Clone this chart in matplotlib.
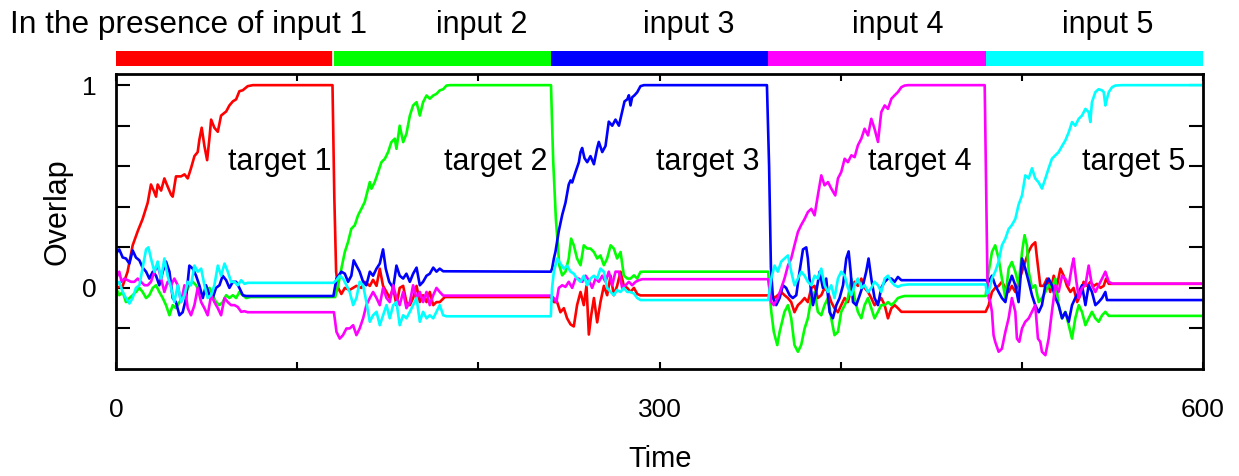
import matplotlib.pyplot as plt

# phases: each input is presented for 120 time units
phase_starts = [0, 120, 240, 360, 480]
phase_len = 120
colors = ['#ff0000', '#00ff00', '#0000ff', '#ff00ff', '#00ffff']
input_labels = ['In the presence of input 1', 'input 2', 'input 3', 'input 4', 'input 5']
target_labels = ['target 1', 'target 2', 'target 3', 'target 4', 'target 5']
target_label_x = [119, 238, 355, 472, 590]

# overlap of each target with the network state, (time, overlap)
red = [
    (0, 0.0), (3.7, 0.01), (6.4, 0.08), (9.2, 0.21), (12, 0.28), (14.7, 0.34), (17.5, 0.42), (19.3, 0.51),
    (20.8, 0.48), (22.1, 0.45), (23, 0.51), (24.9, 0.48), (26.7, 0.54), (28.5, 0.50), (30.4, 0.46), (31.3, 0.45),
    (33.1, 0.55), (35.9, 0.55), (37.8, 0.56), (39.6, 0.54), (41.4, 0.59), (43.3, 0.65), (45.1, 0.67), (46, 0.73),
    (47.3, 0.79), (48.8, 0.70), (50.3, 0.63), (51.6, 0.74), (52.5, 0.83), (54.3, 0.79), (56.2, 0.77), (58, 0.85),
    (60.8, 0.87), (62.6, 0.90), (64.5, 0.92), (66.3, 0.93), (68.1, 0.97), (70, 0.975), (72.7, 0.995), (75.5, 1.0),
    (119.5, 1.0), (120.5, 0.45), (121.5, 0.08), (122.6, 0.0),
    (124.4, -0.03), (126.3, 0.0), (129, -0.01), (132.7, 0.01), (135.5, 0.0), (137.3, 0.03), (140.1, 0.01),
    (141.9, 0.04), (143.8, 0.01), (145.6, 0.095), (147.4, 0.01), (149.3, -0.02), (151.1, -0.05), (153, 0.0),
    (154.8, -0.085), (156.6, 0.0), (158.5, 0.01), (160.3, -0.07), (162.2, -0.085), (164, -0.05), (165.9, 0.01),
    (167.7, -0.07), (169.5, -0.036), (171.4, -0.07), (173.2, -0.02), (175.1, -0.085), (176.9, -0.07),
    (178.7, -0.07), (181.5, -0.045), (240, -0.045),
    (241.7, -0.07), (243.5, -0.07), (245.3, -0.12), (247.2, -0.10), (249, -0.15), (250.9, -0.18), (252.7, -0.19),
    (254.5, -0.085), (256.4, -0.02), (258.2, -0.085), (259.7, 0.01), (261, -0.23), (262.3, -0.135), (263.8, -0.05),
    (265.6, -0.17), (267.4, -0.07), (269.3, 0.01), (271.1, -0.036), (273, 0.06), (274.8, -0.036), (276.6, 0.01),
    (278.5, 0.08), (280.3, 0.01), (282.2, 0.0), (284, -0.02), (285.9, 0.0), (287.7, -0.03), (289.5, -0.037),
    (360, -0.037),
    (361.7, -0.028), (363.5, -0.05), (365.3, -0.036), (367.2, -0.02), (369, -0.036), (370.9, -0.05), (372.7, -0.07),
    (374.5, -0.12), (376.4, -0.085), (378.2, -0.07), (380.1, -0.05), (381.9, -0.07), (383.8, 0.0), (385.6, 0.01),
    (387.4, -0.05), (389.3, -0.036), (391.1, 0.0), (393, -0.02), (394.8, -0.07), (396.6, -0.10), (398.5, -0.12),
    (400.3, -0.085), (402.2, -0.05), (404, -0.07), (405.9, 0.0), (407.7, 0.03), (409.5, 0.01), (411.4, 0.046),
    (413.2, 0.0), (415.1, -0.02), (416.9, -0.05), (418.7, -0.085), (420.6, -0.07), (422.4, -0.05), (424.3, -0.085),
    (426.1, -0.15), (428, -0.10), (429.8, -0.085), (431.6, -0.10), (433.5, -0.118), (480, -0.118),
    (481.7, -0.085), (483.5, -0.02), (485.3, 0.0), (487.2, 0.01), (489, 0.03), (490.9, 0.0), (492.7, -0.02),
    (494.5, 0.01), (496.4, -0.02), (498.2, 0.03), (500.1, 0.08), (501.9, 0.13), (503.8, 0.18), (505.6, 0.21),
    (507.4, 0.225), (508.4, 0.145), (510.2, 0.01), (512, 0.01), (513.9, 0.046), (515.7, -0.02), (517.6, 0.06),
    (519.4, 0.01), (521.3, 0.095), (523.1, 0.06), (524.9, 0.01), (526.8, -0.02), (528.6, 0.0), (530.5, -0.07),
    (532.3, -0.036), (534.1, 0.03), (536, 0.01), (537.8, 0.03), (539.7, 0.01), (541.5, 0.02), (543.4, 0.0),
    (545.2, 0.01), (546.5, 0.046), (548, 0.02), (600, 0.02),
]

green = [
    (0, 0.0), (1.8, -0.036), (3.7, -0.02), (5.5, -0.07), (7.4, -0.05), (9.2, -0.036), (11, -0.02), (12.9, 0.0),
    (14.7, -0.02), (16.6, -0.05), (18.4, -0.036), (20.3, 0.0), (22.1, 0.013), (23.9, -0.02), (25.8, -0.05),
    (27.6, -0.085), (29.5, -0.135), (31.3, -0.085), (33.1, -0.10), (35, -0.07), (36.8, -0.05), (38.7, -0.02),
    (40.5, 0.013), (42.4, 0.03), (44.2, 0.013), (46, -0.02), (47.9, -0.036), (49.7, -0.02), (51.6, 0.0),
    (53.4, -0.036), (55.2, -0.07), (57.1, -0.085), (58.9, -0.07), (60.8, -0.036), (62.6, -0.05), (64.5, -0.036),
    (66.3, -0.05), (68.1, -0.02), (70, -0.036), (71.8, -0.05), (74, -0.045), (121, -0.045),
    (122.6, 0.013), (124.4, 0.095), (126.3, 0.177), (128.1, 0.227), (129.9, 0.292), (131.8, 0.309), (133.6, 0.358),
    (135.5, 0.391), (137.3, 0.424), (138.2, 0.456), (140.1, 0.522), (141, 0.489), (142.8, 0.522), (144.7, 0.571),
    (146.5, 0.62), (148.4, 0.637), (150.2, 0.67), (152, 0.719), (153.9, 0.736), (154.8, 0.686), (156.6, 0.80),
    (158.5, 0.719), (160.3, 0.76), (162.2, 0.85), (164, 0.90), (165.9, 0.916), (167.7, 0.85), (169.5, 0.916),
    (171.4, 0.949), (173.2, 0.933), (175.1, 0.949), (176.9, 0.957), (178.7, 0.974), (180.6, 0.98), (182.4, 0.998),
    (184.3, 1.0), (240.1, 1.0), (241.3, 0.63), (242.8, 0.34), (244.7, 0.11),
    (246.3, 0.062), (248.1, 0.08), (249.9, 0.145), (251.2, 0.243), (252.7, 0.21), (254.5, 0.145), (256.4, 0.112),
    (258.2, 0.21), (260.1, 0.194), (261.9, 0.194), (263.8, 0.177), (265.6, 0.145), (267.4, 0.16), (269.3, 0.112),
    (271.1, 0.145), (273, 0.21), (274.8, 0.194), (276.6, 0.145), (278.5, 0.177), (280.3, 0.062), (282.2, 0.046),
    (284, 0.046), (285.9, 0.062), (287.7, 0.046), (289.5, 0.079), (291.4, 0.08), (360, 0.08),
    (360.7, -0.02), (361.7, -0.118), (363.1, -0.217), (365, -0.282), (366.3, -0.217), (368.1, -0.15), (369, -0.118),
    (370.9, -0.085), (372.7, -0.15), (374.5, -0.282), (376.4, -0.315), (378.2, -0.282), (380.1, -0.20),
    (381.9, -0.15), (383.8, -0.05), (385.6, -0.02), (387.4, -0.118), (389.3, -0.135), (391.1, -0.085), (393, -0.05),
    (394.8, -0.15), (396.6, -0.233), (398.5, -0.217), (400.3, -0.118), (402.2, -0.085), (404, -0.05), (405.9, 0.046),
    (407.7, -0.05), (409.5, -0.118), (411.4, -0.15), (413.2, -0.085), (415.1, -0.05), (416.9, -0.10), (418.7, -0.15),
    (420.6, -0.118), (422.4, -0.085), (424.3, -0.085), (426.1, -0.07), (428, -0.085), (429.8, -0.07), (431.6, -0.05),
    (433.5, -0.044), (435.3, -0.04), (480, -0.04),
    (480.7, 0.013), (481.7, 0.08), (483.5, 0.177), (485.3, 0.21), (487.2, 0.145), (489, 0.046), (490.9, -0.05),
    (492.7, 0.095), (494.5, 0.128), (496.4, 0.08), (498.2, 0.013), (500.1, 0.177), (501.5, 0.26), (502.8, 0.21),
    (503.8, 0.08), (505.6, 0.0), (507.4, 0.013), (509.3, -0.07), (511.1, -0.05), (513, -0.02), (514.8, 0.013),
    (516.6, 0.0), (518.5, 0.046), (520.3, -0.085), (522.2, -0.15), (524, -0.118), (525.9, -0.184), (527.7, -0.25),
    (529.5, -0.15), (531.4, -0.085), (533.2, -0.118), (535.1, -0.184), (536.9, -0.15), (538.7, -0.118),
    (540.6, -0.15), (542.4, -0.167), (544.3, -0.135), (546.1, -0.118), (548, -0.138), (600, -0.138),
]

blue = [
    (0, 0.17), (1.8, 0.19), (3.7, 0.15), (5.5, 0.145), (7.4, 0.12), (9.2, 0.185), (11, 0.15), (12.9, 0.136),
    (14.7, 0.10), (16.6, 0.08), (18.4, 0.046), (20.3, 0.08), (22.1, 0.06), (23.9, 0.013), (25.8, 0.08), (27.6, 0.13),
    (29.5, 0.08), (31.3, -0.05), (33.1, -0.07), (35, -0.135), (36.8, -0.12), (38.7, -0.05), (40.5, 0.11),
    (42.4, 0.095), (44.2, 0.06), (46, 0.013), (47.9, -0.05), (49.7, 0.013), (51.6, -0.036), (53.4, -0.05),
    (55.2, 0.0), (57.1, 0.013), (58.9, 0.06), (60.8, 0.038), (62.6, 0.0), (64.5, 0.03), (66.3, 0.03), (68.1, 0.0),
    (70, -0.036), (71.8, -0.04), (120, -0.04),
    (121.7, 0.046), (124.4, 0.08), (126.3, 0.07), (128.1, 0.03), (129.9, 0.06), (131.2, 0.136), (132.7, 0.11),
    (134.5, 0.08), (136.4, 0.03), (138.2, 0.013), (140.1, 0.08), (141.9, 0.06), (143.8, 0.095), (145.6, 0.12),
    (147.4, 0.19), (148.9, 0.095), (150.8, 0.03), (153, 0.0), (154.8, 0.11), (156.6, 0.06), (158.5, 0.046),
    (160.3, 0.07), (162.2, 0.03), (164, 0.07), (165.9, 0.10), (167.7, 0.013), (169.5, 0.03), (171.4, 0.06),
    (173.2, 0.07), (175.1, 0.10), (176.9, 0.08), (178.7, 0.095), (180.6, 0.082), (240, 0.08),
    (240.7, 0.095), (241.7, 0.145), (242.6, 0.18), (244.4, 0.28), (246.3, 0.36), (248.1, 0.42), (249.9, 0.51),
    (250.9, 0.53), (251.8, 0.52), (253.6, 0.57), (255.5, 0.62), (256.4, 0.67), (257.3, 0.69), (258.6, 0.64),
    (260.1, 0.62), (261.9, 0.65), (263.8, 0.61), (265.6, 0.69), (266.5, 0.72), (268.4, 0.67), (270.2, 0.70),
    (272, 0.82), (273.9, 0.80), (275.7, 0.83), (277.6, 0.80), (279.4, 0.87), (280.7, 0.92), (282.2, 0.93),
    (283.1, 0.95), (284, 0.90), (284.9, 0.94), (286.2, 0.95), (287.7, 0.965), (289.5, 0.995), (291.4, 1.0),
    (359.3, 1.0), (360.5, 0.6), (361.5, 0.1), (362.6, -0.05),
    (364.4, -0.085), (366.3, -0.05), (368.1, 0.013), (369.9, 0.0), (371.8, -0.036), (373.6, -0.05), (375.5, -0.036),
    (377.3, 0.08), (379.2, 0.19), (381, 0.2), (381.9, 0.145), (382.8, 0.046), (383.8, -0.02), (384.7, -0.085),
    (386.5, -0.02), (388.4, 0.08), (390.2, 0.0), (392, 0.046), (393.9, -0.12), (395.7, -0.15), (397.6, -0.085),
    (399.4, -0.05), (401.3, 0.013), (403.1, 0.145), (404.4, 0.18), (405.5, 0.08), (406.8, -0.07), (408.6, -0.085),
    (410.5, -0.036), (412.3, 0.013), (414.1, 0.08), (415.4, 0.145), (416.9, 0.046), (418.7, -0.05), (420.6, -0.085),
    (422.4, 0.0), (424.3, 0.03), (426.1, 0.046), (428, 0.046), (429.8, 0.03), (431.6, 0.054), (433.5, 0.038),
    (480, 0.038),
    (481.7, 0.03), (483.5, 0.06), (485.3, 0.013), (487.2, -0.02), (489, -0.05), (490.9, -0.07), (492.7, 0.013),
    (494.5, 0.06), (496.4, 0.013), (498.2, -0.07), (500.1, 0.145), (501.9, 0.095), (503.8, 0.03), (505.6, -0.036),
    (507.4, -0.085), (509.3, -0.12), (511.1, -0.085), (513, 0.013), (514.8, 0.046), (516.6, 0.013), (518.5, -0.05),
    (520.3, -0.085), (522.2, -0.15), (524, -0.12), (525.9, -0.167), (527.7, -0.085), (529.5, -0.05),
    (531.4, -0.02), (533.2, 0.013), (535.1, -0.085), (536.9, 0.013), (538.7, -0.02), (540.6, -0.085),
    (542.4, -0.07), (544.3, -0.05), (546.1, -0.02), (547, -0.06), (600, -0.06),
]

magenta = [
    (0, 0.046), (1.8, 0.08), (3.1, 0.03), (4.6, 0.046), (6.4, 0.038), (8.3, 0.03), (10.1, 0.03), (12, 0.046),
    (13.8, 0.03), (15.7, 0.013), (17.5, 0.013), (19.3, 0.03), (21.2, 0.08), (23, 0.11), (24.9, 0.046),
    (26.7, -0.02), (28.5, 0.03), (30.4, 0.013), (32.2, 0.046), (34.1, 0.013), (35.9, -0.07), (37.8, 0.013),
    (39.6, -0.10), (41.4, -0.135), (43.3, -0.085), (45.1, 0.0), (47, -0.07), (48.8, -0.10), (50.6, -0.135),
    (52.5, -0.036), (54.3, -0.07), (56.2, -0.10), (58, -0.135), (59.9, -0.05), (61.7, -0.07), (63.5, -0.085),
    (65.4, -0.085), (67.2, -0.094), (69.1, -0.118), (70.9, -0.115), (72.7, -0.12), (120.3, -0.12),
    (121.7, -0.217), (123.5, -0.25), (125.3, -0.233), (127.2, -0.20), (129, -0.20), (130.9, -0.184),
    (132.7, -0.233), (134.5, -0.20), (136.4, -0.15), (138.2, -0.085), (140.1, -0.05), (141.9, -0.02),
    (143.8, -0.05), (145.6, -0.085), (147.4, 0.0), (149.3, -0.05), (151.1, -0.07), (153, 0.013), (154.8, -0.05),
    (156.6, -0.085), (158.5, -0.02), (160.3, -0.10), (162.2, -0.07), (164, 0.013), (165.9, -0.05), (167.7, -0.02),
    (169.5, -0.07), (171.4, -0.02), (173.2, -0.085), (175.1, -0.036), (176.9, 0.0), (178.7, -0.02),
    (180.6, -0.038), (240, -0.038),
    (241.7, -0.05), (243.1, -0.07), (244.4, 0.0), (246.3, 0.013), (248.1, 0.005), (249.9, 0.03), (251.8, 0.0),
    (253.6, 0.046), (255.5, 0.046), (257.3, 0.03), (259.2, 0.06), (261, 0.038), (262.8, 0.0), (264.7, 0.046),
    (266.5, 0.03), (268.4, 0.06), (270.2, 0.03), (272, 0.08), (273.9, 0.013), (275.7, 0.08), (277.6, 0.08),
    (279.4, 0.0), (281.3, 0.013), (283.1, 0.03), (284.9, 0.013), (286.8, 0.03), (288.6, 0.038), (290.5, 0.043),
    (360, 0.043),
    (361.7, -0.07), (363.1, -0.085), (365.3, -0.05), (367.2, 0.0), (369, 0.046), (370.9, 0.11), (372.7, 0.145),
    (374.5, 0.21), (376.4, 0.276), (378.2, 0.31), (380.1, 0.34), (381.9, 0.374), (383.8, 0.39), (385.6, 0.358),
    (387.4, 0.456), (389.3, 0.555), (391.1, 0.506), (393, 0.522), (394.8, 0.49), (397, 0.456), (398.5, 0.54),
    (400.3, 0.571), (402.2, 0.637), (404, 0.62), (405.9, 0.654), (407.7, 0.645), (409.5, 0.703), (411.4, 0.736),
    (413.2, 0.785), (415.1, 0.752), (416.9, 0.834), (418.7, 0.785), (420.6, 0.72), (422.4, 0.867), (424.3, 0.90),
    (426.1, 0.883), (428, 0.933), (429.8, 0.95), (431.6, 0.966), (433.5, 0.99), (435.3, 0.998), (437.2, 1.0),
    (479.5, 1.0), (480.3, 0.5), (481, 0.05),
    (481.7, -0.05), (482.6, -0.07), (483.5, -0.118), (484.4, -0.233), (485.3, -0.266), (487.2, -0.315),
    (489, -0.30), (490.9, -0.217), (492.7, -0.15), (494.5, -0.05), (496.4, -0.118), (497.3, -0.25),
    (498.6, -0.266), (500.1, -0.20), (501.9, -0.167), (503.8, -0.15), (505.6, -0.118), (507.4, -0.085),
    (508.9, -0.25), (510.2, -0.266), (511.1, -0.315), (513, -0.332), (514.8, -0.25), (516.6, -0.118),
    (518.5, 0.013), (520.3, -0.02), (522.2, 0.06), (524, 0.046), (525.9, 0.013), (527.7, 0.11), (528.6, 0.145),
    (529.9, 0.046), (531.4, -0.05), (533.2, 0.0), (535.1, 0.013), (536.9, 0.11), (538.7, 0.013), (540.6, -0.02),
    (542.4, 0.013), (544.3, 0.046), (546.1, 0.08), (548, 0.03), (549.8, 0.021), (600, 0.021),
]

cyan = [
    (0, 0.013), (1.8, 0.03), (3.7, -0.02), (5.5, -0.05), (7.4, -0.077), (9.2, -0.05), (11, 0.0), (12.9, 0.013),
    (14.7, 0.10), (16.6, 0.19), (17.9, 0.2), (19.3, 0.145), (21.2, 0.08), (23, 0.13), (24.9, 0.046), (26.7, 0.145),
    (28.5, 0.06), (30.4, 0.0), (32.2, -0.07), (34.1, 0.013), (35.9, -0.07), (37.8, -0.036), (39.6, 0.03),
    (41.4, 0.013), (43.3, 0.11), (45.1, 0.08), (47, 0.095), (48.8, 0.013), (50.6, -0.05), (52.5, -0.036),
    (54.3, 0.013), (56.2, 0.11), (58, 0.06), (59.9, 0.12), (61.7, 0.08), (63.5, 0.03), (65.4, 0.03), (67.2, 0.013),
    (69.1, 0.038), (70.9, 0.02), (72.7, 0.025), (120, 0.025),
    (121.7, 0.038), (123.5, 0.06), (125.3, 0.046), (127.2, 0.013), (129, -0.02), (130.9, -0.085), (132.7, -0.05),
    (134.5, 0.03), (136.4, 0.013), (138.2, -0.07), (140.1, -0.167), (141.9, -0.135), (143.8, -0.118),
    (145.6, -0.184), (147.4, -0.135), (149.3, -0.085), (151.1, -0.15), (153, -0.085), (154.8, -0.07),
    (156.6, -0.184), (158.5, -0.135), (160.3, -0.15), (162.2, -0.118), (164, -0.085), (165.9, -0.05),
    (167.7, -0.167), (169.5, -0.118), (171.4, -0.15), (173.2, -0.135), (175.1, -0.15), (176.9, -0.118),
    (178.7, -0.085), (180.6, -0.135), (182.4, -0.14), (240, -0.14),
    (240.7, 0.0), (241.7, 0.08), (243.5, 0.145), (245.3, 0.12), (247.2, 0.095), (249, 0.11), (250.9, 0.08),
    (252.7, 0.07), (254.5, 0.046), (256.4, 0.03), (258.2, 0.06), (260.1, 0.013), (261.9, 0.046), (263.8, 0.06),
    (265.6, 0.046), (267.4, 0.095), (269.3, 0.08), (271.1, 0.0), (273, -0.02), (274.8, -0.036), (276.6, -0.011),
    (278.5, -0.02), (280.3, 0.0), (282.2, -0.02), (284, -0.02), (285.9, -0.028), (287.7, -0.05), (289.5, -0.06),
    (360, -0.06),
    (361.7, 0.046), (363.5, 0.11), (365.3, 0.08), (367.2, 0.13), (369, 0.145), (370.9, 0.16), (372.7, 0.08),
    (374.5, 0.013), (376.4, 0.046), (378.2, 0.08), (380.1, 0.06), (381.9, 0.03), (383.8, 0.013), (385.6, 0.06),
    (387.4, 0.046), (389.3, 0.095), (391.1, 0.013), (393, -0.02), (394.8, 0.013), (396.6, -0.05), (398.5, 0.046),
    (400.3, 0.08), (402.2, 0.06), (404, 0.0), (405.9, -0.036), (407.7, 0.013), (409.5, 0.046), (411.4, 0.0),
    (413.2, 0.013), (415.1, -0.02), (416.9, 0.0), (418.7, 0.03), (420.6, 0.013), (422.4, -0.02), (424.3, 0.046),
    (426.1, 0.06), (428, 0.03), (429.8, 0.013), (431.6, 0.005), (433.5, 0.013), (437.2, 0.017), (480, 0.017),
    (480.7, -0.028), (481.7, -0.02), (483.5, 0.046), (485.3, 0.08), (487.2, 0.13), (489, 0.21), (490.9, 0.243),
    (492.7, 0.29), (494.5, 0.31), (496.4, 0.34), (498.2, 0.41), (500.1, 0.456), (501.9, 0.555), (503.8, 0.54),
    (505.6, 0.59), (507.4, 0.54), (509.3, 0.52), (511.1, 0.49), (513, 0.54), (514.8, 0.59), (516.6, 0.637),
    (518.5, 0.654), (520.3, 0.67), (522.2, 0.70), (524, 0.727), (525.9, 0.768), (527.7, 0.818), (529.5, 0.80),
    (531.4, 0.834), (533.2, 0.85), (535.1, 0.883), (536.9, 0.867), (537.8, 0.818), (538.7, 0.916), (540.6, 0.966),
    (542.4, 0.98), (544.3, 0.974), (545.2, 0.966), (546.1, 0.90), (547, 0.933), (548, 0.966), (549.8, 0.99),
    (551.6, 0.998), (555.3, 1.0), (600, 1.0),
]

plt.rcParams['font.family'] = ['Liberation Sans', 'DejaVu Sans']

W, H = 1239, 476
fig = plt.figure(figsize=(W / 100, H / 100), dpi=100)

# main axes
ax = fig.add_axes([116 / W, 1 - 369 / H, (1203 - 116) / W, (369 - 74) / H])
for pts, c in zip([red, green, blue, magenta, cyan], colors):
    t, v = zip(*pts)
    ax.plot(t, v, color=c, lw=1.9, solid_joinstyle='round')

ax.set_xlim(0, 600)
ax.set_ylim(-0.4, 1.055)
ax.set_xticks(range(0, 601, 100))
ax.set_xticklabels(['0', '', '', '300', '', '', '600'])
ax.set_yticks([-0.2, 0, 0.2, 0.4, 0.6, 0.8, 1.0])
ax.set_yticklabels(['', '0', '', '', '', '', '1'])
ax.tick_params(axis='x', direction='in', length=5, width=1.5, top=True, pad=21, labelsize=19)
ax.tick_params(axis='y', direction='in', length=10, width=1.5, right=True, pad=14, labelsize=19)
for s in ax.spines.values():
    s.set_linewidth(2)

for x, lab in zip(target_label_x, target_labels):
    ax.text(x, 0.58, lab, ha='right', va='baseline', fontsize=22)

fig.text(660 / W, 1 - 459 / H, 'Time', ha='center', va='center', fontsize=21)
fig.text(57 / W, 1 - 212 / H, 'Overlap', ha='center', va='center', rotation=90, fontsize=22)

# coloured bar showing which input is presented
bar = fig.add_axes([116 / W, 1 - 66 / H, (1203 - 116) / W, 15 / H])
for s, c in zip(phase_starts, colors):
    bar.axvspan(s, s + phase_len, color=c, lw=0)
bar.axvline(phase_starts[1], color='white', lw=1.2)
bar.set_xlim(0, 600)
bar.axis('off')

fig.text(10 / W, 1 - 33 / H, input_labels[0], ha='left', va='baseline', fontsize=22.8)
for x, lab in zip([482, 689, 898, 1108], input_labels[1:]):
    fig.text(x / W, 1 - 33 / H, lab, ha='center', va='baseline', fontsize=22)

fig.savefig('out.png', dpi=100)
